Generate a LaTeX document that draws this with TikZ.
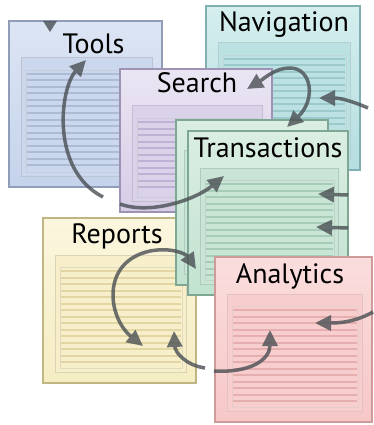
\documentclass[tikz,border=0pt]{standalone}
\usepackage{fontspec}
\setmainfont{PT Sans}
\usetikzlibrary{arrows.meta,calc}
\definecolor{toolsfill}{HTML}{C5D3EB}\definecolor{toolstop}{HTML}{DCE5F4}\definecolor{toolsline}{HTML}{8F9DB8}\definecolor{toolsln}{HTML}{AEBBD4}
\definecolor{navfill}{HTML}{B5DEDF}\definecolor{navtop}{HTML}{D5EEEE}\definecolor{navline}{HTML}{7FAFB3}\definecolor{navln}{HTML}{9CC9CC}
\definecolor{searchfill}{HTML}{D6CDE6}\definecolor{searchtop}{HTML}{EAE5F3}\definecolor{searchline}{HTML}{9E93B4}\definecolor{searchln}{HTML}{BDB2D3}
\definecolor{transfill}{HTML}{C2E2D0}\definecolor{transtop}{HTML}{DAEEE2}\definecolor{transline}{HTML}{7FA894}\definecolor{transln}{HTML}{A6CBB7}
\definecolor{repfill}{HTML}{F5EDC3}\definecolor{reptop}{HTML}{FBF6DE}\definecolor{repline}{HTML}{C2B584}\definecolor{repln}{HTML}{E2D6A4}
\definecolor{anafill}{HTML}{F7C7C7}\definecolor{anatop}{HTML}{FBDDDD}\definecolor{analine}{HTML}{CF9A9A}\definecolor{analn}{HTML}{E6AFAF}
\definecolor{arrowc}{HTML}{4A4F54}
\tikzset{
  pg/.style={inner sep=0pt, outer sep=0pt, line width=1.2pt},
  ttl/.style={font=\fontsize{28}{31}\selectfont, text=black, inner sep=0pt},
  flow/.style={draw=arrowc, line width=3.5pt, -{Triangle[width=15pt,length=16pt]}},
  flow2/.style={draw=arrowc, line width=3.5pt, {Triangle[width=15pt,length=16pt]}-{Triangle[width=15pt,length=16pt]}},
}
% #1 name, #2 x, #3 y, #4 w, #5 h, #6 colour prefix, #7 title, #8 title x, #9 title baseline
\newcommand{\pagebox}[9]{%
  \node[pg, minimum width=#4pt, minimum height=#5pt, anchor=north west,
        top color=#6top, bottom color=#6fill, draw=#6line] (#1) at (#2,#3) {};
  \draw[draw=#6line!60, line width=1pt, fill=#6fill!90!white]
     ($(#1.north west)+(12,37)$) rectangle ($(#1.south east)+(-10,-11)$);
  \draw[draw=#6line!50, line width=0.8pt]
     ($(#1.north west)+(17,49)$) rectangle ($(#1.south east)+(-14,-15)$);
  \pgfmathsetmacro\lnend{#5-20}
  \foreach \yy in {53,59.5,...,\lnend}
     \draw[#6ln, line width=2pt] ($(#1.north west)+(18,\yy)$) -- ($(#1.north east)+(-15,\yy)$);
  \node[ttl, anchor=base] (#1-t) at (#8,#9) {#7};
}
\begin{document}
\begin{tikzpicture}[x=1pt,y=-1pt]
\useasboundingbox (0,0) rectangle (373,425);
\fill[white] (0,0) rectangle (373,425);
\pagebox{tools}{9}{21}{153}{166}{tools}{Tools}{93.5}{54}
\pagebox{nav}{206}{6}{154}{164}{nav}{Navigation}{284}{32}
\pagebox{search}{120}{69}{152}{143}{search}{Search}{197}{93}
\pagebox{reports}{43}{218}{153}{165}{rep}{Reports}{117}{243}
\node[pg, minimum width=152pt, minimum height=165pt, anchor=north west,
      top color=transtop, bottom color=transfill, draw=transline] (transback) at (176,120) {};
\draw[draw=transline!60, line width=1pt, fill=transfill!90!white]
   ($(transback.north west)+(8,30)$) rectangle ($(transback.south east)+(-10,-11)$);
\pagebox{trans}{188}{131}{160}{164}{trans}{Transactions}{268}{157}
\pagebox{ana}{215}{257}{157}{165}{ana}{Analytics}{290}{283}
% arrows
\fill[arrowc, opacity=0.8] (43,21) -- (57,21) -- (50,32) -- cycle;
\begin{scope}[opacity=0.8, transparency group]
\coordinate (a2s) at (103,197); \coordinate (a2e) at (86,60);
\draw[flow] (a2s) .. controls (50,170) and (60,88) .. (a2e);
\coordinate (a3s) at (120,204); \coordinate (a3e) at (224,176);
\draw[flow] (a3s) .. controls (150,215) and (195,200) .. (a3e);
\coordinate (a4s) at (247,89); \coordinate (a4m) at (290,68); \coordinate (a4e) at (287,127);
\draw[flow2] (a4s) .. controls (265,78) and (275,68) .. (a4m) .. controls (312,68) and (316,100) .. (a4e);
\coordinate (a5s) at (368,108); \coordinate (a5e) at (319,98);
\draw[flow] (a5s) .. controls (352,101) and (340,98) .. (a5e);
\coordinate (a6s) at (348,195); \coordinate (a6e) at (318,194);
\draw[flow] (a6s) -- (a6e);
\coordinate (a7s) at (348,228); \coordinate (a7e) at (316,227);
\draw[flow] (a7s) -- (a7e);
\coordinate (a8s) at (196,269); \coordinate (a8m) at (150,251); \coordinate (a8e) at (143,346);
\draw[flow2] (a8s) .. controls (186,254) and (172,247) .. (a8m) .. controls (100,262) and (108,318) .. (a8e);
\coordinate (a9s) at (205,368); \coordinate (a9e) at (174,331);
\draw[flow] (a9s) .. controls (185,365) and (175,352) .. (a9e);
\coordinate (a10s) at (214,371); \coordinate (a10e) at (270,330);
\draw[flow] (a10s) .. controls (250,373) and (270,360) .. (a10e);
\coordinate (a11s) at (373,312); \coordinate (a11e) at (315,323);
\draw[flow] (a11s) .. controls (355,322) and (340,323) .. (a11e);
\end{scope}
\end{tikzpicture}
\end{document}
